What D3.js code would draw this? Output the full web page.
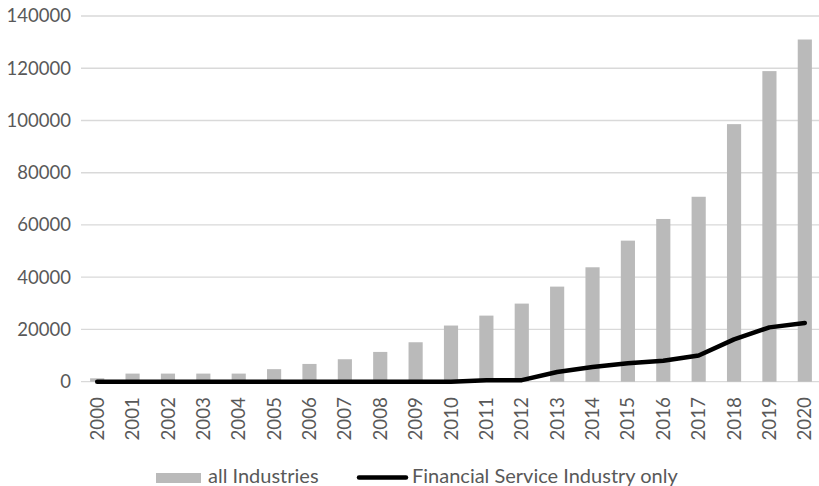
<!DOCTYPE html>
<html><head><meta charset="utf-8">
<script src="https://cdn.jsdelivr.net/npm/d3@7"></script>
<style>body{margin:0;background:#fff}svg{display:block}text{font-family:Lato,"Open Sans",sans-serif;fill:#595959}</style>
</head><body>
<svg id="c" width="819" height="486"></svg>
<script>
const years = ["2000","2001","2002","2003","2004","2005","2006","2007","2008","2009","2010","2011","2012","2013","2014","2015","2016","2017","2018","2019","2020"];
const allIndustries = [1300,3100,3100,3100,3100,4800,6800,8600,11400,15100,21500,25300,29900,36400,43800,54000,62300,70800,98600,118900,131000];
const financialOnly = [0,0,0,0,0,0,0,0,0,0,0,600,600,3700,5600,7100,8000,10000,16200,20800,22500];
const yTicks = [0,20000,40000,60000,80000,100000,120000,140000];
const seriesNames = ["all Industries","Financial Service Industry only"];

const svg = d3.select("#c");
const x = d3.scaleBand().domain(years).range([79.5,822.5]).paddingInner(0.6).paddingOuter(0.3);
const y = d3.scaleLinear().domain([0,140000]).range([381.7,16]);

// gridlines
svg.append("g").selectAll("line").data(yTicks).join("line")
  .attr("x1",81).attr("x2",819).attr("y1",d=>y(d)).attr("y2",d=>y(d))
  .attr("stroke","#d9d9d9").attr("stroke-width",1.3);

// y labels
svg.append("g").selectAll("text").data(yTicks).join("text")
  .attr("x",71).attr("y",d=>y(d)).attr("dy","0.35em").attr("text-anchor","end")
  .style("font-size","18.5px").text(d=>d);

// bars
svg.append("g").selectAll("rect").data(years).join("rect")
  .attr("x",d=>x(d)).attr("width",x.bandwidth())
  .attr("y",(d,i)=>y(allIndustries[i])).attr("height",(d,i)=>y(0)-y(allIndustries[i]))
  .attr("fill","#bababa");

// line
const line = d3.line().x((d,i)=>x(years[i])+x.bandwidth()/2).y(d=>y(d));
svg.append("path").datum(financialOnly).attr("d",line)
  .attr("fill","none").attr("stroke","#000").attr("stroke-width",4.5)
  .attr("stroke-linejoin","round").attr("stroke-linecap","round");

// x labels
svg.append("g").selectAll("text").data(years).join("text")
  .attr("transform",d=>`translate(${x(d)+x.bandwidth()/2},397) rotate(-90)`)
  .attr("dy","0.35em").attr("text-anchor","end")
  .style("font-size","18.8px").text(d=>d);

// legend
const lg = svg.append("g");
lg.append("rect").attr("x",156).attr("y",473).attr("width",45).attr("height",10).attr("fill","#bababa");
lg.append("text").attr("x",208).attr("y",476).attr("dy","0.35em").style("font-size","20px").text(seriesNames[0]);
lg.append("line").attr("x1",359).attr("x2",406).attr("y1",477.5).attr("y2",477.5)
  .attr("stroke","#000").attr("stroke-width",4.5).attr("stroke-linecap","round");
lg.append("text").attr("x",412).attr("y",476).attr("dy","0.35em").style("font-size","20px").text(seriesNames[1]);
</script>
</body></html>
